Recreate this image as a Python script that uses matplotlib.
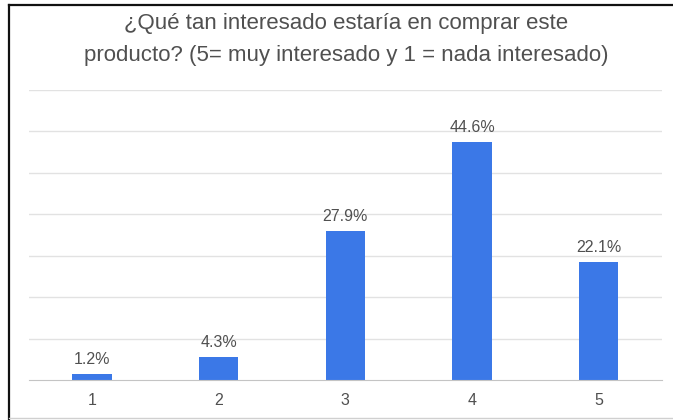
"""Bar chart: purchase interest rating (1-5) as share of responses."""

import matplotlib.pyplot as plt
from matplotlib.lines import Line2D

plt.rcParams["font.family"] = ["Liberation Sans", "DejaVu Sans"]

ratings = ["1", "2", "3", "4", "5"]
shares = [1.2, 4.3, 27.9, 44.6, 22.1]

TITLE = "¿Qué tan interesado estaría en comprar este\nproducto? (5= muy interesado y 1 = nada interesado)"
BAR_COLOR = "#3b78e7"
TEXT_COLOR = "#505050"

fig = plt.figure(figsize=(6.73, 4.2), dpi=100)
ax = fig.add_axes([0.0425, 0.0952, 0.9412, 0.6905])

x = list(range(1, len(ratings) + 1))
ax.bar(x, shares, width=0.31, color=BAR_COLOR, zorder=3)

for xi, v in zip(x, shares):
    ax.annotate(f"{v}%", (xi, v), xytext=(0, 5), textcoords="offset points",
                ha="center", va="bottom", fontsize=11.5, color=TEXT_COLOR)

top = 54.4
ax.set_xlim(0.5, 5.5)
ax.set_ylim(0, top)
ax.set_yticks([top * i / 7 for i in range(1, 8)])
ax.set_yticklabels([])
ax.set_xticks(x)
ax.set_xticklabels(ratings, fontsize=11.5, color=TEXT_COLOR)
ax.tick_params(axis="both", length=0)
ax.tick_params(axis="x", pad=9)
ax.grid(axis="y", color="#e2e2e2", linewidth=1, zorder=0)
for side in ["top", "right", "left"]:
    ax.spines[side].set_visible(False)
ax.spines["bottom"].set_color("#c4c4c4")
ax.spines["bottom"].set_zorder(4)

fig.text(0.514, 0.968, TITLE, ha="center", va="top", fontsize=16,
         color=TEXT_COLOR, linespacing=1.65)

# frame around the card
fig.add_artist(Line2D([8.5 / 673, 8.5 / 673], [0, 1 - 5 / 420], color="#111111", linewidth=1.6))
fig.add_artist(Line2D([8.5 / 673, 1], [1 - 5 / 420, 1 - 5 / 420], color="#111111", linewidth=1.6))
fig.add_artist(Line2D([8.5 / 673, 1], [2.5 / 420, 2.5 / 420], color="#d0d0d0", linewidth=1))

fig.savefig("out.png", dpi=100)
